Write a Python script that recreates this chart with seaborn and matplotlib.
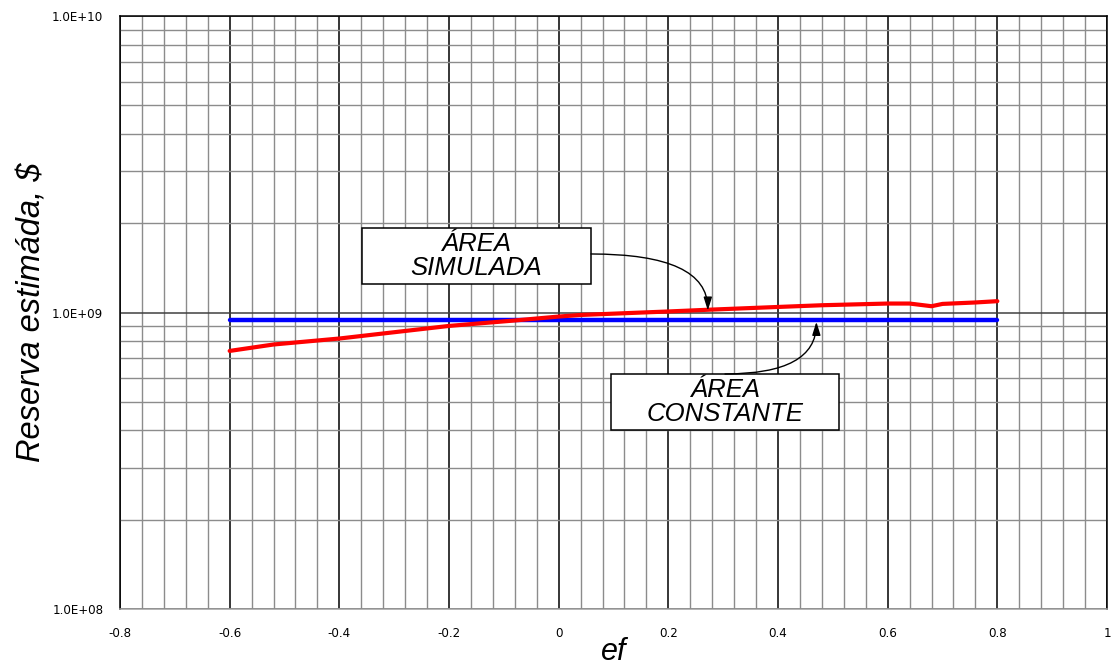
import matplotlib
matplotlib.use("Agg")
import matplotlib.pyplot as plt
import seaborn as sns
import pandas as pd
import numpy as np
from matplotlib.ticker import MultipleLocator, LogLocator, FuncFormatter, NullFormatter
from matplotlib.patches import Rectangle

# ==========================================
# Datos
# ==========================================
ef_sim = [-0.6, -0.52, -0.4, -0.2, -0.08, 0.0, 0.04, 0.2, 0.28, 0.4, 0.48, 0.6, 0.64, 0.68, 0.7, 0.76, 0.8]
reserva_sim = [7.42e8, 7.80e8, 8.17e8, 9.01e8, 9.40e8, 9.69e8, 9.81e8, 1.008e9, 1.023e9,
               1.044e9, 1.058e9, 1.072e9, 1.072e9, 1.050e9, 1.069e9, 1.081e9, 1.092e9]

ef_const = [-0.6, 0.8]
reserva_const = [9.42e8, 9.42e8]

x_ticks = [-0.8, -0.6, -0.4, -0.2, 0, 0.2, 0.4, 0.6, 0.8, 1]
x_tick_labels = ["-0.8", "-0.6", "-0.4", "-0.2", "0", "0.2", "0.4", "0.6", "0.8", "1"]
y_ticks = [1e8, 1e9, 1e10]

df_sim = pd.DataFrame({"ef": ef_sim, "Reserva": reserva_sim})
df_const = pd.DataFrame({"ef": ef_const, "Reserva": reserva_const})

sns.set_style("white")
plt.rcParams["font.family"] = ["DejaVu Sans"]
plt.rcParams["text.color"] = "black"
plt.rcParams["axes.labelcolor"] = "black"
plt.rcParams["xtick.labelcolor"] = "black"
plt.rcParams["ytick.labelcolor"] = "black"

fig = plt.figure(figsize=(11.15, 6.67), dpi=100)
ax = fig.add_axes([120 / 1115, 1 - 609 / 667, 987 / 1115, 593 / 667])

sns.lineplot(data=df_sim, x="ef", y="Reserva", color="#ff0000", lw=3, ax=ax, zorder=4)
sns.lineplot(data=df_const, x="ef", y="Reserva", color="#0000ff", lw=3.2, ax=ax, zorder=3)

ax.set_yscale("log")
ax.set_xlim(-0.8, 1.0)
ax.set_ylim(1e8, 1e10)

# ejes y rejilla
ax.set_xticks(x_ticks)
ax.set_xticklabels(x_tick_labels)
ax.xaxis.set_minor_locator(MultipleLocator(0.04))
ax.set_yticks(y_ticks)
ax.yaxis.set_major_formatter(FuncFormatter(lambda v, p: f"{v:.1E}"))
ax.yaxis.set_minor_locator(LogLocator(base=10, subs=np.arange(2, 10)))
ax.yaxis.set_minor_formatter(NullFormatter())

ax.set_axisbelow(True)
ax.grid(which="minor", axis="both", color="#8c8c8c", lw=1.0)
ax.grid(which="major", axis="x", color="black", lw=1.1)
ax.grid(which="major", axis="y", color="#404040", lw=1.1)

ax.tick_params(axis="x", which="major", length=4, color="#a0a0a0", labelsize=8.6, pad=9)
ax.tick_params(axis="x", which="minor", length=0)
ax.tick_params(axis="y", which="both", length=0, labelsize=8.6, pad=12)

for side in ["top", "right", "left"]:
    ax.spines[side].set_color("black")
    ax.spines[side].set_linewidth(1.1)
ax.spines["bottom"].set_color("#a0a0a0")
ax.spines["bottom"].set_linewidth(1.1)

ax.set_xlabel("ef", fontsize=22, style="italic", family=["Liberation Sans"], labelpad=-2)
ax.set_ylabel("Reserva estimáda, $", fontsize=23.5, style="italic", family=["Liberation Sans"], labelpad=3)

# cuadros de texto con flechas
def caja(x0, y0, w, h, texto):
    ax.add_patch(Rectangle((x0, y0), w, h, transform=ax.transAxes, facecolor="white",
                           edgecolor="black", lw=1.1, zorder=6))
    ax.text(x0 + w / 2, y0 + h / 2, texto, transform=ax.transAxes, ha="center", va="center",
            fontsize=18.5, style="italic", family=["Liberation Sans"], linespacing=1.0, zorder=7)

caja(0.245, 0.548, 0.232, 0.0945, "ÁREA\nSIMULADA")
caja(0.4975, 0.302, 0.231, 0.0944, "ÁREA\nCONSTANTE")

ax.annotate("", xy=(0.272, 1.015e9), xycoords="data",
            xytext=(0.4772, 0.5987), textcoords="axes fraction",
            arrowprops=dict(arrowstyle="-|>,head_length=0.8,head_width=0.25", color="black", lw=1,
                            connectionstyle="angle3,angleA=0,angleB=-90", shrinkA=0, shrinkB=0),
            zorder=8)
ax.annotate("", xy=(0.47, 9.3e8), xycoords="data",
            xytext=(0.613, 0.3963), textcoords="axes fraction",
            arrowprops=dict(arrowstyle="-|>,head_length=0.8,head_width=0.25", color="black", lw=1,
                            connectionstyle="angle3,angleA=0,angleB=90", shrinkA=0, shrinkB=0),
            zorder=8)

plt.savefig("out.png", dpi=100)
